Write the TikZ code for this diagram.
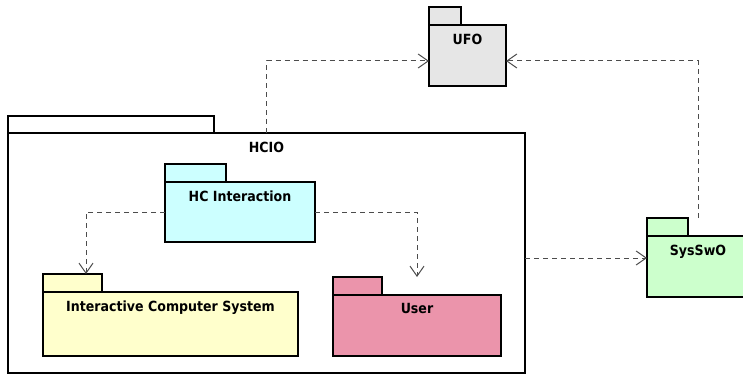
\documentclass[tikz,border=0pt]{standalone}
\usepackage{fontspec}
\setmainfont{DejaVu Sans}[FakeStretch=0.9]
\usepackage{xcolor}
\usetikzlibrary{arrows.meta,positioning}

\definecolor{ufogray}{HTML}{E6E6E6}
\definecolor{hciblue}{HTML}{CCFFFF}
\definecolor{icsyellow}{HTML}{FFFFCC}
\definecolor{userpink}{HTML}{EB94AB}
\definecolor{sysgreen}{HTML}{CCFFCC}

\begin{document}
\begin{tikzpicture}[
    x=1pt, y=-1pt,
    mypkg/.style={draw, line width=2pt, outer sep=0pt, inner sep=0pt},
    mytab/.style={mypkg, minimum height=18pt, above right=0pt and 0pt of #1},
    mylabel/.style={font=\bfseries\fontsize{14}{16}\selectfont, inner sep=0pt},
    mydep/.style={-{Straight Barb[length=10pt, width=14pt]}, line width=1pt,
        draw=black!70, dash pattern=on 5pt off 4pt}
]
\useasboundingbox (0,0) rectangle (743,374);

% outer package and its contents
\node[mypkg, fill=white, minimum width=517pt, minimum height=240pt] (hcio) at (266.5,253) {};
\node[mytab=hcio.north west, fill=white, minimum width=206pt, minimum height=17pt] (hciotab) {};
\node[mylabel, below=8.5pt of hcio.north] (hcioname) {HCIO};

\node[mypkg, fill=hciblue, minimum width=150pt, minimum height=60pt] (hci) at (240,212) {};
\node[mytab=hci.north west, fill=hciblue, minimum width=61pt] (hcitab) {};
\node[mylabel, below=8.5pt of hci.north] (hciname) {HC Interaction};

\node[mypkg, fill=icsyellow, minimum width=255pt, minimum height=64pt] (ics) at (170.5,324) {};
\node[mytab=ics.north west, fill=icsyellow, minimum width=59pt] (icstab) {};
\node[mylabel, below=8.5pt of ics.north] (icsname) {Interactive Computer System};

\node[mypkg, fill=userpink, minimum width=168pt, minimum height=61pt] (user) at (417,325.5) {};
\node[mytab=user.north west, fill=userpink, minimum width=49pt] (usertab) {};
\node[mylabel, below=8.5pt of user.north] (username) {User};

% packages outside
\node[mypkg, fill=ufogray, minimum width=77pt, minimum height=61pt] (ufo) at (467.5,55.5) {};
\node[mytab=ufo.north west, fill=ufogray, minimum width=32pt] (ufotab) {};
\node[mylabel, below=8.5pt of ufo.north] (ufoname) {UFO};

\node[mypkg, fill=sysgreen, minimum width=102pt, minimum height=61pt] (sys) at (698,266.5) {};
\node[mytab=sys.north west, fill=sysgreen, minimum width=41pt] (systab) {};
\node[mylabel, below=8.5pt of sys.north] (sysname) {SysSwO};

% dependencies
\coordinate (sysin) at ([yshift=8.5pt]sys.west);
\draw[mydep] (hcio.north) |- ([yshift=-5.5pt]ufo.west);
\draw[mydep] ([yshift=18pt]sys.north) |- ([yshift=-5.5pt]ufo.east);
\draw[mydep] (hci.west) -| ([xshift=13.5pt]icstab.north);
\draw[mydep] (hci.east) -| ([yshift=18pt]user.north);
\draw[mydep] (hcio.east |- sysin) -- (sysin);
\end{tikzpicture}
\end{document}
